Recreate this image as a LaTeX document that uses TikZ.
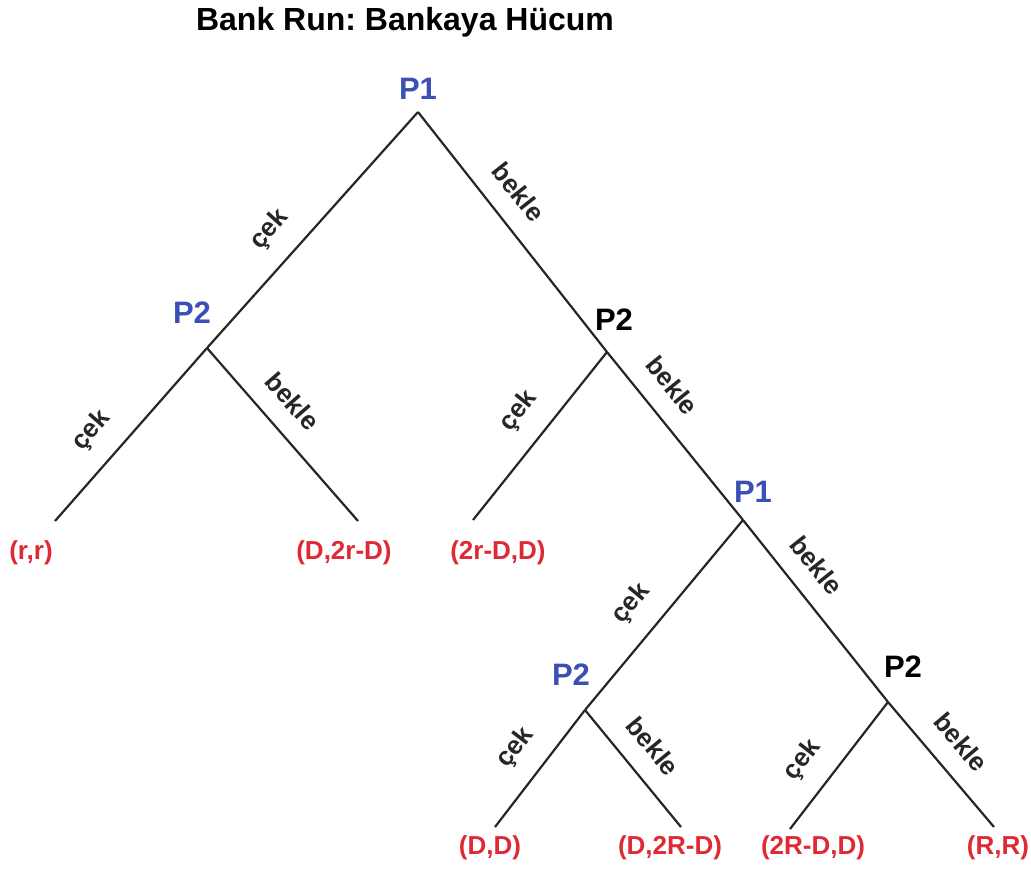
\documentclass[tikz,border=0pt]{standalone}
\usepackage{fontspec}
\setmainfont{Liberation Sans}
\usetikzlibrary{positioning}
\definecolor{playerblue}{HTML}{3A50B4}
\definecolor{payoffred}{HTML}{DF2A35}
\frenchspacing

\begin{document}
\begin{tikzpicture}[x=1pt, y=-1pt,
    branch/.style={line width=2.2pt, black!85},
    player/.style={font=\fontsize{31}{36}\selectfont\bfseries, inner sep=0pt},
    payoff/.style={font=\fontsize{26}{30}\selectfont\bfseries, text=payoffred, inner sep=0pt},
    move/.style={font=\fontsize{26}{30}\selectfont\bfseries, sloped, above=17pt, inner sep=2pt}]
    \useasboundingbox (0,0) rectangle (1031,868);

    % Title
    \node[player, font=\fontsize{32}{38}\selectfont\bfseries] (title) at (405,22) {Bank Run: Bankaya Hücum};

    % Decision points
    \coordinate (n0) at (418,112);
    \coordinate (n1) at (207,348);
    \coordinate (n2) at (607,352);
    \coordinate (n3) at (743,520);
    \coordinate (n4) at (585,710);
    \coordinate (n5) at (888,702);

    % Leaf ends
    \coordinate (e1) at (55,521);
    \coordinate (e2) at (358,521);
    \coordinate (e3) at (473,520);
    \coordinate (e4) at (495,827);
    \coordinate (e5) at (681,827);
    \coordinate (e6) at (790,829);
    \coordinate (e7) at (994,827);

    % Players
    \node[player, text=playerblue] (p0) at (418,89) {P1};
    \node[player, text=playerblue] (p1) at (192,313) {P2};
    \node[player] (p2) at (614,320) {P2};
    \node[player, text=playerblue] (p3) at (753,492) {P1};
    \node[player, text=playerblue] (p4) at (571,675) {P2};
    \node[player] (p5) at (903,667) {P2};

    % Branches
    \draw[branch] (n0) -- node[move, pos=0.59] {çek} (n1);
    \draw[branch] (n0) -- node[move, pos=0.41] {bekle} (n2);
    \draw[branch] (n1) -- node[move, pos=0.6] {çek} (e1);
    \draw[branch] (n1) -- node[move, pos=0.42] {bekle} (e2);
    \draw[branch] (n2) -- node[move, pos=0.47] {çek} (e3);
    \draw[branch] (n2) -- node[move, pos=0.31] {bekle} (n3);
    \draw[branch] (n3) -- node[move, pos=0.55] {çek} (n4);
    \draw[branch] (n3) -- node[move, pos=0.35] {bekle} (n5);
    \draw[branch] (n4) -- node[move, pos=0.49] {çek} (e4);
    \draw[branch] (n4) -- node[move, pos=0.47] {bekle} (e5);
    \draw[branch] (n5) -- node[move, pos=0.61] {çek} (e6);
    \draw[branch] (n5) -- node[move, pos=0.475] {bekle} (e7);

    % Payoffs
    \node[payoff] (v1) at (31,553) {(r,r)};
    \node[payoff] (v2) at (344,553) {(D,2r-D)};
    \node[payoff] (v3) at (498,553) {(2r-D,D)};
    \node[payoff] (v4) at (490,848) {(D,D)};
    \node[payoff] (v5) at (670,848) {(D,2R-D)};
    \node[payoff] (v6) at (813,848) {(2R-D,D)};
    \node[payoff] (v7) at (998,848) {(R,R)};
\end{tikzpicture}
\end{document}
